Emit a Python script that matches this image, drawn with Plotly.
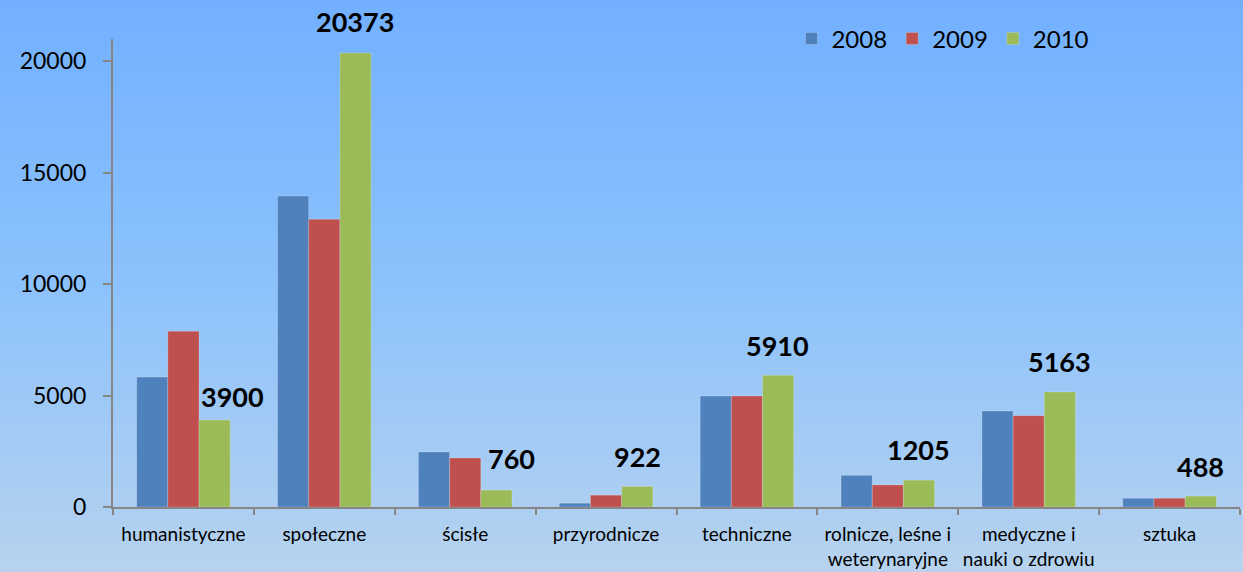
import plotly.graph_objects as go

categories = [
    "humanistyczne",
    "społeczne",
    "ścisłe",
    "przyrodnicze",
    "techniczne",
    "rolnicze, leśne i<br>weterynaryjne",
    "medyczne i<br>nauki o zdrowiu",
    "sztuka",
]
years = ["2008", "2009", "2010"]
values_2008 = [5830, 13950, 2470, 170, 4980, 1420, 4310, 390]
values_2009 = [7890, 12910, 2200, 530, 4980, 990, 4100, 390]
values_2010 = [3900, 20373, 760, 922, 5910, 1205, 5163, 488]

colors = ["#4F81BD", "#C0504D", "#9BBB59"]
font_family = "Lato, 'Open Sans', sans-serif"

fig = go.Figure()

for name, vals, color in zip(years, [values_2008, values_2009, values_2010], colors):
    fig.add_trace(
        go.Bar(
            x=categories,
            y=vals,
            name=name,
            marker=dict(color=color, line=dict(width=0.6, color="rgba(255,255,255,0.35)")),
        )
    )

# labels over the 2010 bars (a couple are nudged sideways like in the original)
label_xshift = [18, 0, 15, 0, 0, 0, 0, 0]
label_yshift = [24, 31, 32, 30, 30, 31, 30, 30]
for i, (cat, val) in enumerate(zip(categories, values_2010)):
    fig.add_annotation(
        x=cat,
        y=val,
        text=f"<b>{val}</b>",
        showarrow=False,
        xref="x",
        yref="y",
        xanchor="center",
        yanchor="middle",
        xshift=31 + label_xshift[i],
        yshift=label_yshift[i],
        font=dict(size=27, color="#000000", family=font_family),
    )

# vertical gradient background
W, H = 1243, 572
ml, mr, mt, mb = 113, 3, 39, 65
pw, ph = W - ml - mr, H - mt - mb
top_rgb = (114, 176, 255)
mid_rgb = (140, 194, 252)
bot_rgb = (182, 210, 238)
n_bands = 143
shapes = []
for k in range(n_bands):
    t = k / (n_bands - 1)
    if t < 0.5:
        a, b, u = top_rgb, mid_rgb, t / 0.5
    else:
        a, b, u = mid_rgb, bot_rgb, (t - 0.5) / 0.5
    c = tuple(round(a[j] + (b[j] - a[j]) * u) for j in range(3))
    py0 = k * H / n_bands
    py1 = (k + 1) * H / n_bands + 1
    shapes.append(
        dict(
            type="rect",
            xref="paper",
            yref="paper",
            x0=-ml / pw - 0.01,
            x1=1 + (mr + 5) / pw,
            y0=(H - mb - py1) / ph,
            y1=(H - mb - py0) / ph,
            fillcolor="rgb(%d,%d,%d)" % c,
            line=dict(width=0),
            layer="below",
        )
    )

fig.update_layout(
    width=W,
    height=H,
    margin=dict(l=ml, r=mr, t=mt, b=mb),
    paper_bgcolor="#B6D2EE",
    plot_bgcolor="rgba(0,0,0,0)",
    barmode="group",
    bargap=0.336,
    bargroupgap=0,
    shapes=shapes,
    font=dict(family=font_family, color="#000000"),
    showlegend=True,
    legend=dict(
        orientation="h",
        x=0.602,
        xanchor="left",
        y=1.0,
        yanchor="middle",
        font=dict(size=24, family=font_family),
        bgcolor="rgba(0,0,0,0)",
        itemwidth=30,
        traceorder="normal",
    ),
)

fig.update_xaxes(
    showline=True,
    linecolor="#868686",
    linewidth=2,
    ticks="outside",
    ticklen=6,
    tickwidth=2,
    tickcolor="#868686",
    tickson="boundaries",
    tickangle=0,
    automargin=False,
    ticklabelstandoff=9,
    tickfont=dict(size=19, family=font_family),
    showgrid=False,
)
fig.update_yaxes(
    range=[0, 21000],
    tickvals=[0, 5000, 10000, 15000, 20000],
    tickformat="d",
    showline=True,
    linecolor="#868686",
    linewidth=2,
    ticks="outside",
    ticklen=8,
    tickwidth=2,
    tickcolor="#868686",
    automargin=False,
    tickfont=dict(size=23, family=font_family),
    ticklabelstandoff=12,
    showgrid=False,
    zeroline=False,
)

fig.write_html(
    "out.html",
    config={"displayModeBar": False},
    post_script="document.body.style.margin='0';",
)
